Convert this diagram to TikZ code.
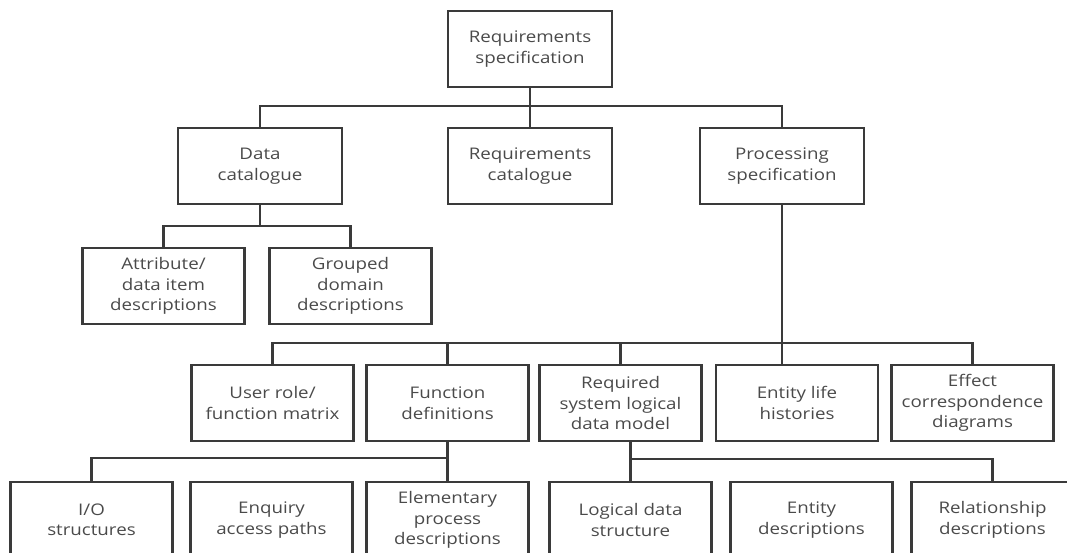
\documentclass[tikz,border=0pt]{standalone}
\usepackage{fontspec}
\setmainfont{Open Sans}[FakeStretch=1.17]
\usetikzlibrary{positioning}

\definecolor{inkline}{HTML}{3A3A3A}
\definecolor{inktext}{HTML}{4A4A4A}

\tikzset{
	docbox/.style={draw=inkline, line width=2.2pt, minimum width=162pt, minimum height=76pt,
		inner sep=0pt, align=center, text=inktext,
		font=\fontsize{16}{20.5}\selectfont},
	link/.style={draw=inkline, line width=2.2pt}
}

\begin{document}
\begin{tikzpicture}[x=1pt,y=-1pt,on grid]
		\useasboundingbox (0,0) rectangle (1067,552);
		\node[docbox,minimum width=164pt] (top) at (530,49) {Requirements\\specification};
		\node[docbox,minimum width=164pt] (rc) [below=117pt of top] {Requirements\\catalogue};
		\node[docbox,minimum width=164pt] (dc) [left=270pt of rc] {Data\\catalogue};
		\node[docbox,minimum width=164pt] (ps) [right=252pt of rc] {Processing\\specification};
		
		\node[docbox] (attr) [below left=120pt and 96.5pt of dc] {Attribute/\\data item\\descriptions};
		\node[docbox] (grp) [right=187pt of attr] {Grouped\\domain\\descriptions};
		
		\node[docbox] (el) [below right=237pt and 15pt of ps] {Entity life\\histories};
		\node[docbox] (ec) [right=175.5pt of el] {Effect\\correspondence\\diagrams};
		\node[docbox] (rs) [left=176.5pt of el] {Required\\system logical\\data model};
		\node[docbox] (fd) [left=173pt of rs] {Function\\definitions};
		\node[docbox] (ur) [left=175pt of fd] {User role/\\function matrix};
		
		\node[docbox] (ep) [below=117pt of fd] {Elementary\\process\\descriptions};
		\node[docbox] (eq) [left=176pt of ep] {Enquiry\\access paths};
		\node[docbox] (io) [left=180pt of eq] {I/O\\structures};
		\node[docbox] (ld) [right=183pt of ep] {Logical data\\structure};
		\node[docbox] (ed) [right=181pt of ld] {Entity\\descriptions};
		\node[docbox] (rd) [right=181pt of ed] {Relationship\\descriptions};
		
		% top level
		\draw[link] (top) -- (rc);
		\draw[link] (dc.north) -- ++(0,-21) -| (ps.north);
		% data catalogue
		\draw[link] (dc.south) -- ++(0,21) coordinate (dcbus);
		\draw[link] (attr.north) |- (dcbus) -| (grp.north);
		% processing specification
		\draw[link] (ps.south) -- (ps.south |- el.north);
		\path (ps.south |- ur.north) ++(0,-21) coordinate (psbus);
		\draw[link] (ur.north) |- (psbus) -| (ec.north);
		\draw[link] (fd.north) -- (fd.north |- psbus);
		\draw[link] (rs.north) -- (rs.north |- psbus);
		% function definitions
		\draw[link] (fd.south) -- (ep.north);
		\path (ep.north) ++(0,-23) coordinate (fdbus);
		\draw[link] (io.north) |- (fdbus);
		% logical data model
		\draw[link] (ld.north) -- (ld.north |- rs.south);
		\path (ld.north) ++(0,-22) coordinate (rsbus);
		\draw[link] (rsbus) -| (rd.north);
	\end{tikzpicture}
\end{document}
